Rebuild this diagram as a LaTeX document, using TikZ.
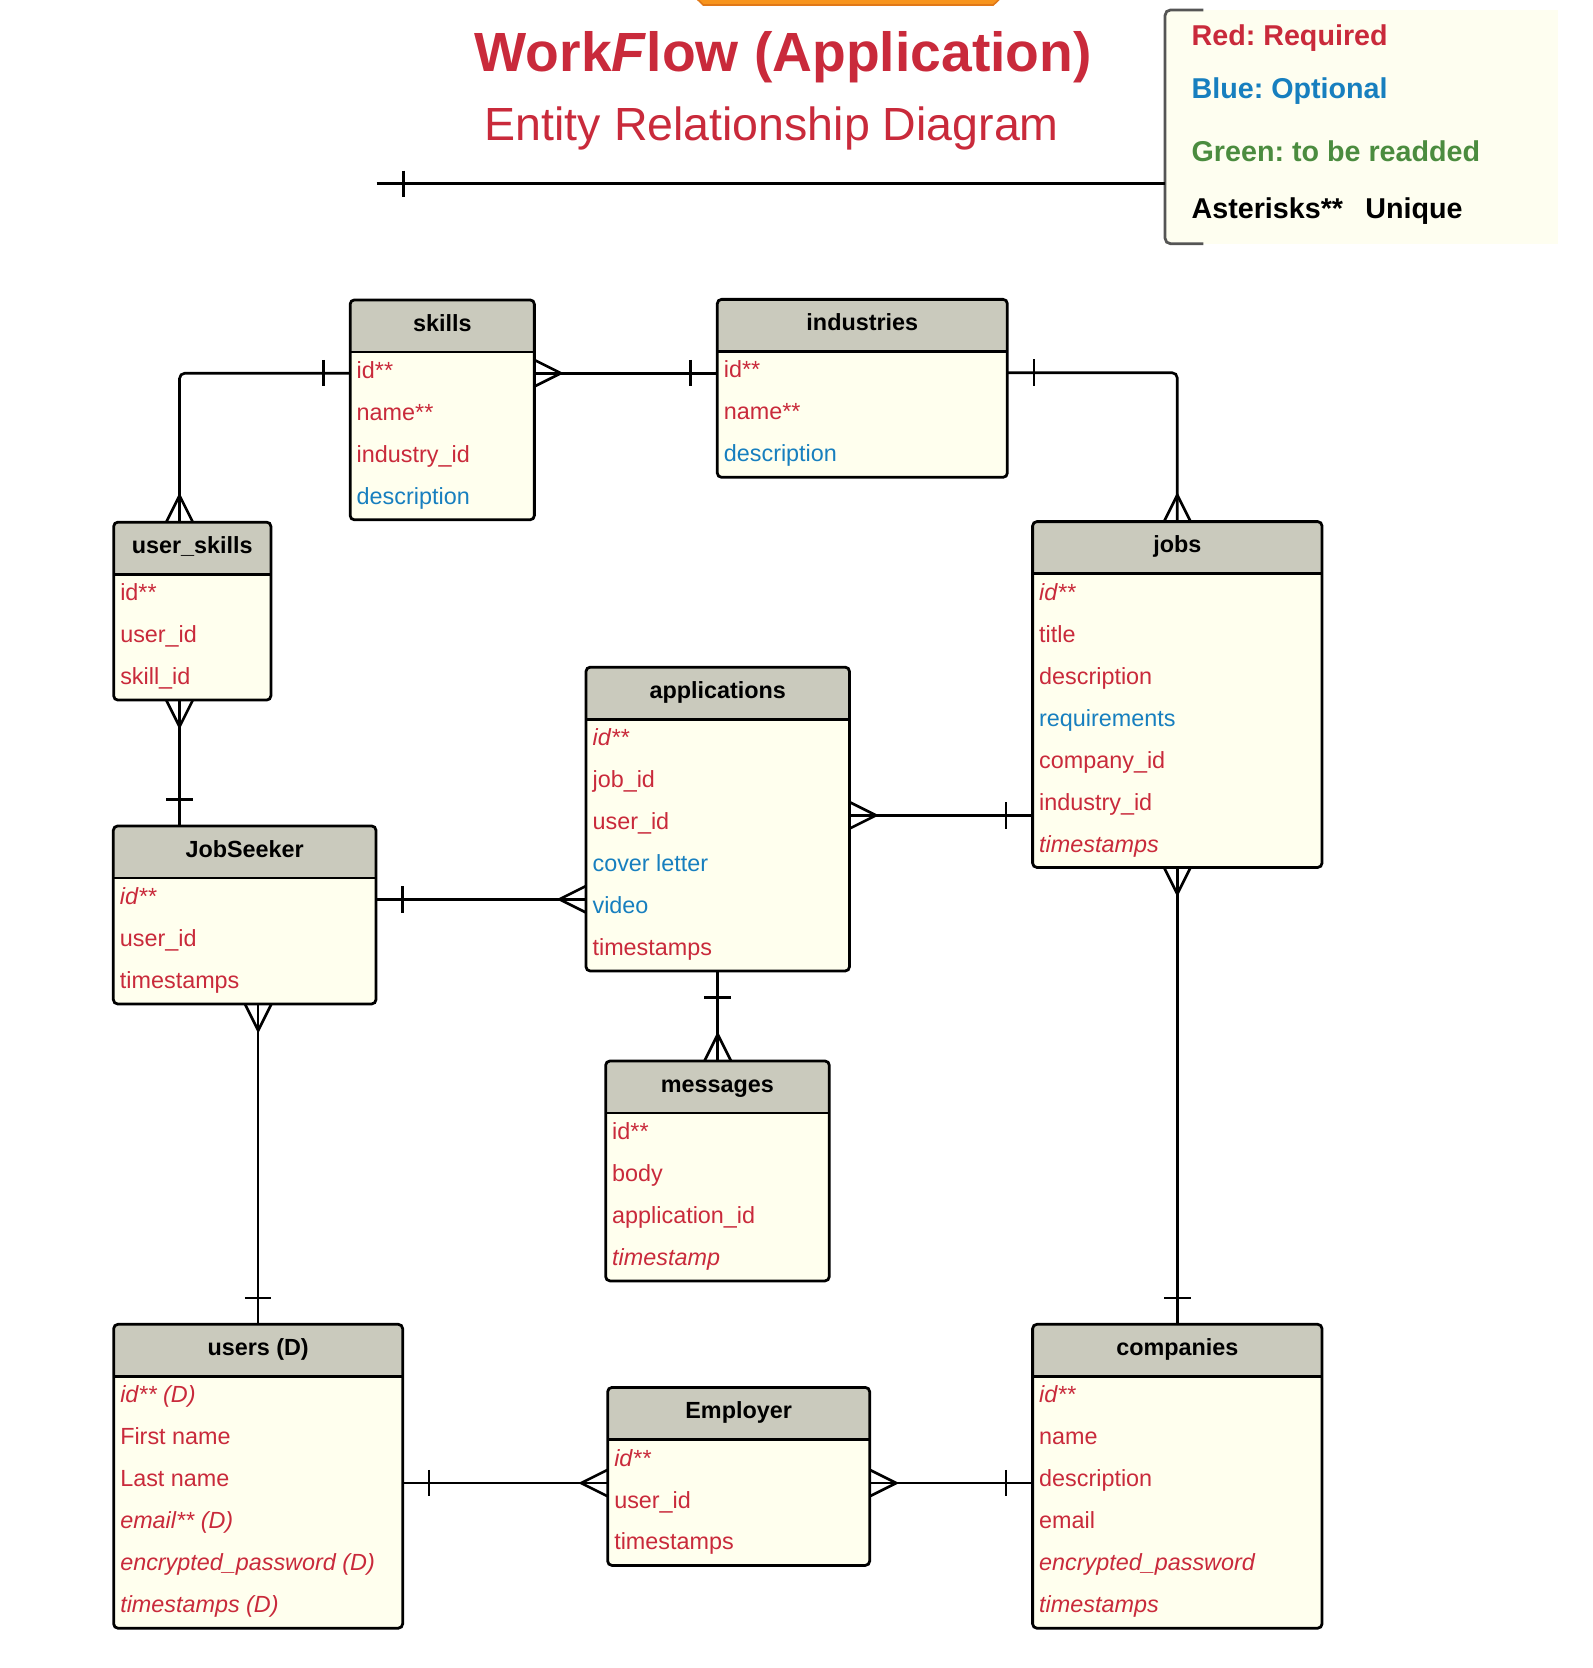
\documentclass[tikz,border=0pt]{standalone}
\usepackage{fontspec}
\setmainfont{Liberation Sans}
\frenchspacing
\usetikzlibrary{calc}
\definecolor{requiredColor}{HTML}{C92A3B}
\definecolor{optionalColor}{HTML}{177FBF}
\definecolor{readdColor}{HTML}{4B8C3F}
\definecolor{headColor}{HTML}{CACABD}
\definecolor{bodyColor}{HTML}{FFFFEE}
\definecolor{legendColor}{HTML}{FEFEF0}
\definecolor{orangeColor}{HTML}{F7941D}
\definecolor{orangeLine}{HTML}{E07818}
\definecolor{legendLine}{HTML}{555555}

\newcommand{\fR}[1]{\textcolor{requiredColor}{#1}}
\newcommand{\fI}[1]{\textcolor{requiredColor}{\itshape #1}}
\newcommand{\fB}[1]{\textcolor{optionalColor}{#1}}

\tikzset{
  enthead/.style={fill=headColor, rounded corners=4pt, minimum height=49pt, inner sep=0pt, outer sep=0pt,
    text height=16pt, text depth=6pt, font=\fontsize{22}{26}\selectfont\bfseries},
  entbody/.style={fill=bodyColor, rounded corners=4pt, inner sep=0pt, outer sep=0pt},
  entline/.style={line width=2.6pt, rounded corners=4pt},
  entrow/.style={anchor=west, inner sep=0pt, text height=16pt, text depth=0pt,
    font=\fontsize{22}{26}\selectfont},
  rel/.style={line width=2.5pt},
  tickline/.style={line width=2.4pt},
  legendline/.style={draw=legendLine, line width=2.6pt, rounded corners=5pt},
  legendtext/.style={anchor=base west, inner sep=0pt, font=\fontsize{27}{32}\selectfont\bfseries}
}

% entity: name, north west corner, width, rows, title, fields
\newcommand{\entity}[6]{%
  \pgfmathsetmacro\bodyh{39.5*#4}
  \node[enthead, minimum width=#3, anchor=north west] (#1) at (#2) {#5};
  \node[entbody, minimum width=#3, minimum height=\bodyh, anchor=north] (#1-b) at (#1.south) {};
  \foreach \field [count=\k] in {#6}
    \node[entrow] (#1-\k) at ($(#1.south west)+(6,{17+39.5*(\k-1)})$) {\field};
  \draw[entline] (#1.north west) rectangle (#1-b.south east);
  \draw[entline] (#1.south west) -- (#1.south east);
}

\begin{document}
\begin{tikzpicture}[x=1pt,y=-1pt]
  \useasboundingbox (0,0) rectangle (1498.6,1570.1);

  % top
  \draw[fill=orangeColor, draw=orangeLine, line width=1.5pt] (654,-30) -- (654,-3) -- (662,4.7) -- (935,4.7) -- (943,-3) -- (943,-30);
  \node[anchor=base, text=requiredColor, font=\fontsize{52}{60}\selectfont\bfseries] (title) at (737.3,67.6) {Work\textit{F}low (Application)};
  \node[anchor=base, text=requiredColor, font=\fontsize{43.8}{50}\selectfont] (subtitle) at (726.5,131.8) {Entity Relationship Diagram};

  % legend
  \node[fill=legendColor, minimum width=370, minimum height=220, anchor=north west, inner sep=0pt, outer sep=0pt] (legend) at (1096.7,9.4) {};
  \draw[legendline] ($(legend.north west)+(36,0)$) -- (legend.north west) -- (legend.south west) -- ($(legend.south west)+(36,0)$);
  \node[legendtext, text=requiredColor] (legRed) at (1121.5,42.5) {Red: Required};
  \node[legendtext, text=optionalColor] (legBlue) at (1121.5,92.7) {Blue: Optional};
  \node[legendtext, text=readdColor] (legGreen) at (1121.5,151.8) {Green: to be readded};
  \node[legendtext] (legStar) at (1121.5,205.9) {Asterisks** \hspace{0.5em}Unique};
  \coordinate (lineEnd) at (354.6,173);
  \draw[rel] (lineEnd) -- (lineEnd -| legend.west);
  \draw[tickline] ($(lineEnd)+(25,-12.5)$) -- ++(0,25);

  % entities
  \entity{skills}{329.6,282.3}{173.4}{4}{skills}{\fR{id**}, \fR{name**}, \fR{industry\_id}, \fB{description}}
  \entity{industries}{675.2,281.8}{273}{3}{industries}{\fR{id**}, \fR{name**}, \fB{description}}
  \entity{userskills}{107,491.5}{148}{3}{user\_skills}{\fR{id**}, \fR{user\_id}, \fR{skill\_id}}
  \entity{jobs}{972,491}{272.4}{7}{jobs}{\fI{id**}, \fR{title}, \fR{description}, \fB{requirements}, \fR{company\_id}, \fR{industry\_id}, \fI{timestamps}}
  \entity{applications}{551.6,628}{248}{6}{applications}{\fI{id**}, \fR{job\_id}, \fR{user\_id}, \fB{cover letter}, \fB{video}, \fR{timestamps}}
  \entity{JobSeeker}{106.7,777.5}{247.2}{3}{JobSeeker}{\fI{id**}, \fR{user\_id}, \fR{timestamps}}
  \entity{messages}{570.1,998.7}{210.5}{4}{messages}{\fR{id**}, \fR{body}, \fR{application\_id}, \fI{timestamp}}
  \entity{users}{107,1246.6}{272}{6}{users (D)}{\fI{id** (D)}, \fR{First name}, \fR{Last name}, \fI{email** (D)}, \fI{encrypted\_password (D)}, \fI{timestamps (D)}}
  \entity{Employer}{572,1306}{246.6}{3}{Employer}{\fI{id**}, \fR{user\_id}, \fR{timestamps}}
  \entity{companies}{972,1246.6}{272.4}{6}{companies}{\fI{id**}, \fR{name}, \fR{description}, \fR{email}, \fI{encrypted\_password}, \fI{timestamps}}

  % skills -- user_skills
  \coordinate (skA) at ($(skills-b.north west)+(0,20)$);
  \coordinate (usA) at ($(userskills.north)+(-12,0)$);
  \draw[rel, rounded corners=5pt] (skA) -| (usA);
  \draw[tickline] ($(skA)+(-25,-12.5)$) -- ++(0,25);
  \draw[rel] ($(usA)+(-12.5,0)$) -- ++(12.5,-25) -- ++(12.5,25);

  % skills -- industries
  \coordinate (skB) at ($(skills-b.north east)+(0,20)$);
  \draw[rel] (skB) -- (skB -| industries-b.west);
  \draw[rel] ($(skB)+(0,-12.5)$) -- ++(25,12.5) -- ++(-25,12.5);
  \draw[tickline] ($(skB -| industries-b.west)+(-25,-12.5)$) -- ++(0,25);

  % industries -- jobs
  \coordinate (inA) at ($(industries-b.north east)+(0,20)$);
  \draw[rel, rounded corners=5pt] (inA) -| (jobs.north);
  \draw[tickline] ($(inA)+(25,-12.5)$) -- ++(0,25);
  \draw[rel] ($(jobs.north)+(-12.5,0)$) -- ++(12.5,-25) -- ++(12.5,25);

  % user_skills -- JobSeeker
  \coordinate (usB) at ($(userskills-b.south)+(-12,0)$);
  \draw[rel] (usB) -- (usB |- JobSeeker.north);
  \draw[rel] ($(usB)+(-12.5,0)$) -- ++(12.5,25) -- ++(12.5,-25);
  \draw[tickline] ($(usB |- JobSeeker.north)+(-12.5,-25)$) -- ++(25,0);

  % JobSeeker -- applications
  \coordinate (jsA) at ($(JobSeeker-b.north east)+(0,20)$);
  \draw[rel] (jsA) -- (jsA -| applications-b.west);
  \draw[tickline] ($(jsA)+(25,-12.5)$) -- ++(0,25);
  \draw[rel] ($(jsA -| applications-b.west)+(0,-12.5)$) -- ++(-25,12.5) -- ++(25,12.5);

  % applications -- jobs
  \coordinate (apA) at ($(applications-b.north east)+(0,90.5)$);
  \draw[rel] (apA) -- (apA -| jobs-b.west);
  \draw[rel] ($(apA)+(0,-12.5)$) -- ++(25,12.5) -- ++(-25,12.5);
  \draw[tickline] ($(apA -| jobs-b.west)+(-25,-12.5)$) -- ++(0,25);

  % applications -- messages
  \draw[rel] (applications-b.south) -- (applications-b.south |- messages.north);
  \draw[tickline] ($(applications-b.south)+(-12.5,25)$) -- ++(25,0);
  \draw[rel] ($(applications-b.south |- messages.north)+(-12.5,0)$) -- ++(12.5,-25) -- ++(12.5,25);

  % JobSeeker -- users
  \draw[rel] (users.north |- JobSeeker-b.south) -- (users.north);
  \draw[rel] ($(users.north |- JobSeeker-b.south)+(-12.5,0)$) -- ++(12.5,25) -- ++(12.5,-25);
  \draw[tickline] ($(users.north)+(-12.5,-25)$) -- ++(25,0);

  % jobs -- companies
  \draw[rel] (jobs-b.south) -- (jobs-b.south |- companies.north);
  \draw[rel] ($(jobs-b.south)+(-12.5,0)$) -- ++(12.5,25) -- ++(12.5,-25);
  \draw[tickline] ($(jobs-b.south |- companies.north)+(-12.5,-25)$) -- ++(25,0);

  % users -- Employer
  \coordinate (emA) at ($(Employer-b.north west)+(0,41)$);
  \draw[rel] (emA -| users-b.east) -- (emA);
  \draw[tickline] ($(emA -| users-b.east)+(25,-12.5)$) -- ++(0,25);
  \draw[rel] ($(emA)+(0,-12.5)$) -- ++(-25,12.5) -- ++(25,12.5);

  % Employer -- companies
  \coordinate (emB) at ($(Employer-b.north east)+(0,41)$);
  \draw[rel] (emB) -- (emB -| companies-b.west);
  \draw[rel] ($(emB)+(0,-12.5)$) -- ++(25,12.5) -- ++(-25,12.5);
  \draw[tickline] ($(emB -| companies-b.west)+(-25,-12.5)$) -- ++(0,25);
\end{tikzpicture}
\end{document}
